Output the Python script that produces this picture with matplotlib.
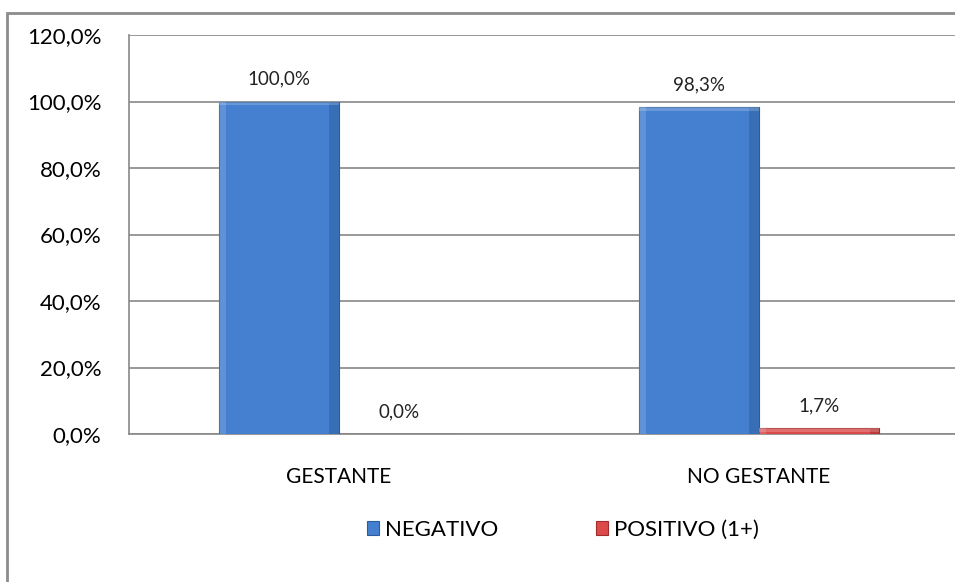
import numpy as np
import matplotlib
matplotlib.use("Agg")
import matplotlib.pyplot as plt
from matplotlib.patches import Rectangle

# values (percent) per group
categories = ["GESTANTE", "NO GESTANTE"]
negativo = [100.0, 98.3]
positivo = [0.0, 1.7]
series_names = ["NEGATIVO", "POSITIVO (1+)"]
yticks = [0, 20, 40, 60, 80, 100, 120]

blue = "#4480cf"
blue_dark = "#2b5d9c"
red = "#dc4a4a"
red_dark = "#a02c2c"

plt.rcParams['font.family'] = ['Lato', 'DejaVu Sans']

fig = plt.figure(figsize=(9.55, 5.82), dpi=100)

# outer chart frame
frame = Rectangle((7 / 955, -0.05), 1.1, (582 - 13) / 582 + 0.05,
                  transform=fig.transFigure, fill=False,
                  edgecolor="#8c8c8c", linewidth=2, zorder=0)
fig.patches.append(frame)

# plot area runs past the right edge of the figure
ax = fig.add_axes([129 / 955, 148 / 582, 840 / 955, 399 / 582])

x = np.arange(len(categories))
w = 0.286


def bevel_bars(xs, vals, face, dark, label):
    bars = ax.bar(xs, vals, w, color=face, edgecolor=dark, linewidth=0.8,
                  label=label, zorder=3)
    for b in bars:
        h = b.get_height()
        if h <= 0:
            continue
        x0 = b.get_x()
        # darker right side, lighter left side and top for the bevel look
        ax.bar(x0 + w * 0.92, h, w * 0.08, align="edge", color=dark,
               alpha=0.5, linewidth=0, zorder=4)
        ax.bar(x0, h, w * 0.06, align="edge", color="white",
               alpha=0.15, linewidth=0, zorder=4)
        cap = min(h, 1.2)
        ax.bar(x0, cap, w, bottom=h - cap, align="edge",
               color="white", alpha=0.2, linewidth=0, zorder=4)
    return bars


b1 = bevel_bars(x - w / 2, negativo, blue, blue_dark, series_names[0])
b2 = bevel_bars(x + w / 2, positivo, red, red_dark, series_names[1])

for bars, vals in ((b1, negativo), (b2, positivo)):
    for b, v in zip(bars, vals):
        ax.annotate(f"{v:.1f}%".replace(".", ","),
                    (b.get_x() + b.get_width() / 2, v),
                    xytext=(0, 10), textcoords="offset points",
                    ha="center", va="bottom", fontsize=13.5,
                    color="#222222")

ax.set_xlim(-0.5, 1.5)
ax.set_ylim(0, 120)
ax.set_yticks(yticks)
ax.set_yticklabels([f"{t:.1f}%".replace(".", ",") for t in yticks],
                   fontsize=16)
ax.set_xticks(x)
ax.set_xticklabels(categories, fontsize=15)
ax.yaxis.grid(True, color="#888888", linewidth=1.2, zorder=0)
ax.set_axisbelow(True)
ax.tick_params(axis="x", length=0, pad=24)
ax.tick_params(axis="y", length=0, pad=20)
for s in ("top", "right"):
    ax.spines[s].set_visible(False)
ax.spines["left"].set_color("#888888")
ax.spines["bottom"].set_color("#888888")
ax.spines["left"].set_linewidth(1.2)
ax.spines["bottom"].set_linewidth(1.2)

leg = fig.legend(handles=[b1, b2], labels=series_names, loc="center",
                 bbox_to_anchor=(563 / 955, 1 - 530 / 582), ncol=2,
                 frameon=False, fontsize=16, handlelength=0.55,
                 handleheight=0.55, handletextpad=0.25, columnspacing=4.4)

fig.savefig("out.png", dpi=100)
